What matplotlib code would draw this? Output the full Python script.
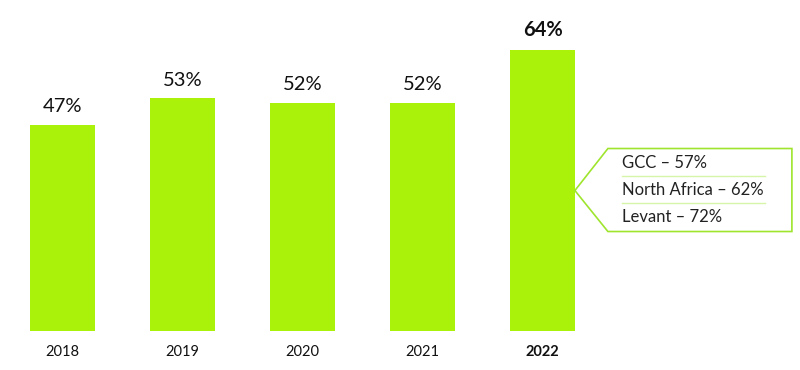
import matplotlib.pyplot as plt
from matplotlib.patches import Polygon

# Data
years = ["2018", "2019", "2020", "2021", "2022"]
values = [47, 53, 52, 52, 64]
regions = ["GCC", "North Africa", "Levant"]
region_values = [57, 62, 72]

green = "#aaf20a"
plt.rcParams["font.family"] = ["Lato", "DejaVu Sans"]

fig = plt.figure(figsize=(8, 3.7), dpi=100)
ax = fig.add_axes([0, 0, 1, 1])
x = list(range(len(years)))
w = 0.54
ax.bar(x, values, width=w, color=green)
ax.set_xlim(-62.5 / 120, (800 - 62.5) / 120)
ax.set_ylim(-39 / 4.39, 331 / 4.39)
ax.axis("off")

last = len(years) - 1
for i, v in enumerate(values):
    bold = i == last
    ax.text(i, v + 2.2, f"{v}%", ha="center", va="bottom", fontsize=14.5,
            fontweight="bold" if bold else "normal", color="#111111")
    ax.text(i, -3.3, years[i], ha="center", va="top", fontsize=10.5,
            fontweight="bold" if bold else "normal", color="#111111")

# callout pointing at the 2022 bar
px = 120 / 1.0  # pixels per x unit
py = 4.39       # pixels per y unit
tip_x = last + w / 2
tip_y = values[last] / 2
left = tip_x + 33 / px
right = tip_x + 217 / px
top = tip_y + 42 / py
bottom = tip_y - 41 / py
ax.add_patch(Polygon([(tip_x, tip_y), (left, top), (right, top), (right, bottom),
                      (left, bottom)], closed=True, facecolor="white",
                     edgecolor="#9fe52e", linewidth=1.2))
row_h = 27 / py
tx = left + 14 / px
for j, (r, rv) in enumerate(zip(regions, region_values)):
    cy = top - (14 + 27 * j) / py
    ax.text(tx, cy, f"{r} – {rv}%", ha="left", va="center", fontsize=12,
            color="#222222")
    if j < len(regions) - 1:
        ly = cy - row_h / 2
        ax.plot([tx, tx + 143 / px], [ly, ly], color="#d6f5a8", linewidth=1)

fig.savefig("out.png", dpi=100)
